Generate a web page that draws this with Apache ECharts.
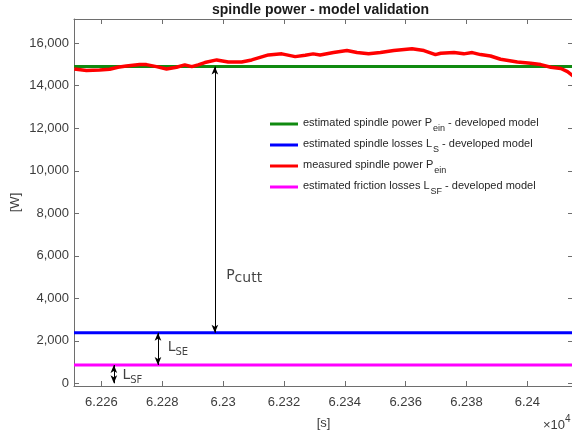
<!DOCTYPE html>
<html>
<head>
<meta charset="utf-8">
<script src="https://cdn.jsdelivr.net/npm/echarts@6/dist/echarts.min.js"></script>
<style>
  html, body { margin: 0; padding: 0; background: #ffffff; }
  #chart { width: 572px; height: 435px; }
</style>
</head>
<body>
<div id="chart"></div>
<script>
// Time axis [s] and power axis [W] limits
const timeMin = 62251;
const timeMax = 62415;
const timeTicks = [62260, 62280, 62300, 62320, 62340, 62360, 62380, 62400];
const powerMin = -127;
const powerMax = 17140;
const powerTicks = [0, 2000, 4000, 6000, 8000, 10000, 12000, 14000, 16000];

// Model levels [W]
const estimatedPower = 14900;
const spindleLosses = 2380;
const frictionLosses = 860;

// Measured spindle power
const measuredTime = [62251.1, 62255.1, 62259.4, 62262.7, 62265.4, 62268.2, 62272.6, 62274.8,
  62278.1, 62281.4, 62284.7, 62287.4, 62289.7, 62291.8, 62294.0, 62297.9, 62301.7, 62306.1,
  62309.4, 62314.9, 62319.3, 62323.7, 62327.0, 62329.6, 62331.9, 62336.3, 62340.7, 62344.0,
  62347.8, 62351.7, 62356.1, 62362.1, 62366.0, 62369.8, 62371.5, 62375.9, 62379.1, 62381.9,
  62384.6, 62387.9, 62391.2, 62396.7, 62401.1, 62404.4, 62407.7, 62411.0, 62413.2, 62415.0];
const measuredPower = [14790, 14715, 14745, 14775, 14870, 14930, 14995, 14995,
  14900, 14790, 14870, 14980, 14900, 14980, 15090, 15215, 15120, 15120,
  15215, 15450, 15500, 15370, 15435, 15500, 15450, 15560, 15655, 15560,
  15500, 15560, 15655, 15745, 15655, 15465, 15530, 15560, 15500, 15560,
  15465, 15400, 15245, 15120, 15060, 14995, 14870, 14810, 14665, 14460];

// Legend entries: main text, subscript, trailing text
const seriesNames = ['estPower', 'estLosses', 'measPower', 'estFriction'];
const legendMain = ['estimated spindle power P', 'estimated spindle losses L', 'measured spindle power P', 'estimated friction losses L'];
const legendSub = ['ein', 'S', 'ein', 'SF'];
const legendTail = [' - developed model', ' - developed model', '', ' - developed model'];
const seriesColors = ['#108a10', '#0000ff', '#ff0000', '#ff00ff'];

// Dimension arrows and their labels
const arrowTime = [62297.3, 62278.6, 62264.1];
const arrowFrom = [estimatedPower, spindleLosses, frictionLosses];
const arrowTo = [spindleLosses, frictionLosses, 0];
const noteTime = [62301.0, 62281.8, 62266.9];
const notePower = [5050, 1640, 330];
const noteMain = ['P', 'L', 'L'];
const noteSub = ['cutt', 'SE', 'SF'];

const axisColor = '#6e6e6e';
const labelColor = '#3c3c3c';
const baseFont = '"Liberation Sans", Arial, sans-serif';

function levelLine(v) { return [[timeMin, v], [timeMax, v]]; }

const chart = echarts.init(document.getElementById('chart'), null, { renderer: 'canvas' });

const legendLabels = {};
seriesNames.forEach((n, i) => {
  legendLabels[n] = '{a|' + legendMain[i] + '}{s|' + legendSub[i] + '}' + (legendTail[i] ? '{a|' + legendTail[i] + '}' : '');
});

const option = {
  animation: false,
  backgroundColor: '#ffffff',
  title: {
    text: 'spindle power - model validation',
    left: 212,
    top: 2,
    padding: 0,
    textStyle: { fontFamily: baseFont, fontSize: 14, fontWeight: 'bold', color: '#1a1a1a', lineHeight: 16 }
  },
  grid: { left: 74, top: 19, right: -1, bottom: 49, containLabel: false, outerBoundsMode: 'none' },
  legend: {
    left: 270,
    top: 117,
    padding: 0,
    orient: 'vertical',
    itemGap: 5,
    itemWidth: 28,
    itemHeight: 3,
    icon: 'rect',
    selectedMode: false,
    data: seriesNames,
    formatter: name => legendLabels[name],
    textStyle: {
      color: '#262626',
      rich: {
        a: { fontFamily: baseFont, fontSize: 11, lineHeight: 14, verticalAlign: 'top', color: '#262626' },
        s: { fontFamily: baseFont, fontSize: 9, lineHeight: 9, padding: [7, 0, 0, 1], verticalAlign: 'top', color: '#262626' }
      }
    }
  },
  xAxis: [
    {
      type: 'value', min: timeMin, max: timeMax,
      name: '[s]', nameLocation: 'middle', nameGap: 31,
      nameTextStyle: { fontFamily: baseFont, fontSize: 13, color: labelColor },
      axisLine: { show: true, onZero: false, lineStyle: { color: axisColor, width: 1 } },
      axisTick: { show: true, inside: true, length: 5, customValues: timeTicks, lineStyle: { color: axisColor } },
      axisLabel: {
        customValues: timeTicks, margin: 10,
        fontFamily: baseFont, fontSize: 13, color: labelColor,
        formatter: v => String(+(v / 1e4).toFixed(4))
      },
      splitLine: { show: false }
    },
    {
      type: 'value', min: timeMin, max: timeMax, position: 'top',
      axisLine: { show: true, onZero: false, lineStyle: { color: axisColor, width: 1 } },
      axisTick: { show: true, inside: true, length: 5, customValues: timeTicks, lineStyle: { color: axisColor } },
      axisLabel: { show: false },
      splitLine: { show: false }
    }
  ],
  yAxis: [
    {
      type: 'value', min: powerMin, max: powerMax,
      name: '[W]', nameLocation: 'middle', nameGap: 52, nameRotate: 90, nameMoveOverlap: false,
      nameTextStyle: { fontFamily: baseFont, fontSize: 13, color: labelColor },
      axisLine: { show: true, onZero: false, lineStyle: { color: axisColor, width: 1 } },
      axisTick: { show: true, inside: true, length: 5, customValues: powerTicks, lineStyle: { color: axisColor } },
      axisLabel: {
        customValues: powerTicks, margin: 5,
        fontFamily: baseFont, fontSize: 13, color: labelColor,
        formatter: v => v.toLocaleString('en-US')
      },
      splitLine: { show: false }
    },
    {
      type: 'value', min: powerMin, max: powerMax, position: 'right',
      axisLine: { show: true, onZero: false, lineStyle: { color: axisColor, width: 1 } },
      axisTick: { show: true, inside: true, length: 5, customValues: powerTicks, lineStyle: { color: axisColor } },
      axisLabel: { show: false },
      splitLine: { show: false }
    }
  ],
  graphic: [
    {
      type: 'text', left: 543, top: 414,
      style: {
        text: '{a|×10}{b|4}',
        rich: {
          a: { fontFamily: baseFont, fontSize: 13, lineHeight: 16, padding: [5, 0, 0, 0], verticalAlign: 'top', fill: labelColor, color: labelColor },
          b: { fontFamily: baseFont, fontSize: 10, lineHeight: 12, verticalAlign: 'top', fill: labelColor, color: labelColor }
        }
      }
    }
  ],
  series: [
    {
      name: seriesNames[0], type: 'line', data: levelLine(estimatedPower), showSymbol: false,
      lineStyle: { color: seriesColors[0], width: 3 }, itemStyle: { color: seriesColors[0] }, z: 2
    },
    {
      name: seriesNames[1], type: 'line', data: levelLine(spindleLosses), showSymbol: false,
      lineStyle: { color: seriesColors[1], width: 3 }, itemStyle: { color: seriesColors[1] }, z: 2
    },
    {
      name: seriesNames[2], type: 'line', data: measuredTime.map((t, i) => [t, measuredPower[i]]), showSymbol: false,
      lineStyle: { color: seriesColors[2], width: 3.5 }, itemStyle: { color: seriesColors[2] }, z: 3
    },
    {
      name: seriesNames[3], type: 'line', data: levelLine(frictionLosses), showSymbol: false,
      lineStyle: { color: seriesColors[3], width: 3 }, itemStyle: { color: seriesColors[3] }, z: 3
    },
    {
      name: 'notes', type: 'scatter', symbolSize: 0, silent: true, z: 5,
      data: noteTime.map((t, i) => ({ value: [t, notePower[i]], main: noteMain[i], sub: noteSub[i] })),
      label: {
        show: true, position: 'right', distance: 0,
        formatter: p => '{m|' + p.data.main + '}{' + (p.data.sub === 'cutt' ? 'c' : 's') + '|' + p.data.sub + '}',
        rich: {
          m: { fontFamily: '"DejaVu Sans", sans-serif', fontSize: 14, lineHeight: 16, verticalAlign: 'top', color: '#111' },
          c: { fontFamily: '"DejaVu Sans", sans-serif', fontSize: 14, lineHeight: 16, padding: [3, 0, 0, 0], verticalAlign: 'top', color: '#111' },
          s: { fontFamily: '"DejaVu Sans", sans-serif', fontSize: 10, lineHeight: 10, padding: [7, 0, 0, 0], verticalAlign: 'top', color: '#111' }
        }
      },
      markLine: {
        silent: true,
        symbol: ['arrow', 'arrow'],
        symbolSize: [5, 8],
        label: { show: false },
        lineStyle: { color: '#000', width: 1, type: 'solid' },
        data: arrowTime.map((t, i) => [{ coord: [t, arrowFrom[i]] }, { coord: [t, arrowTo[i]] }])
      }
    }
  ]
};

chart.setOption(option);
</script>
</body>
</html>
